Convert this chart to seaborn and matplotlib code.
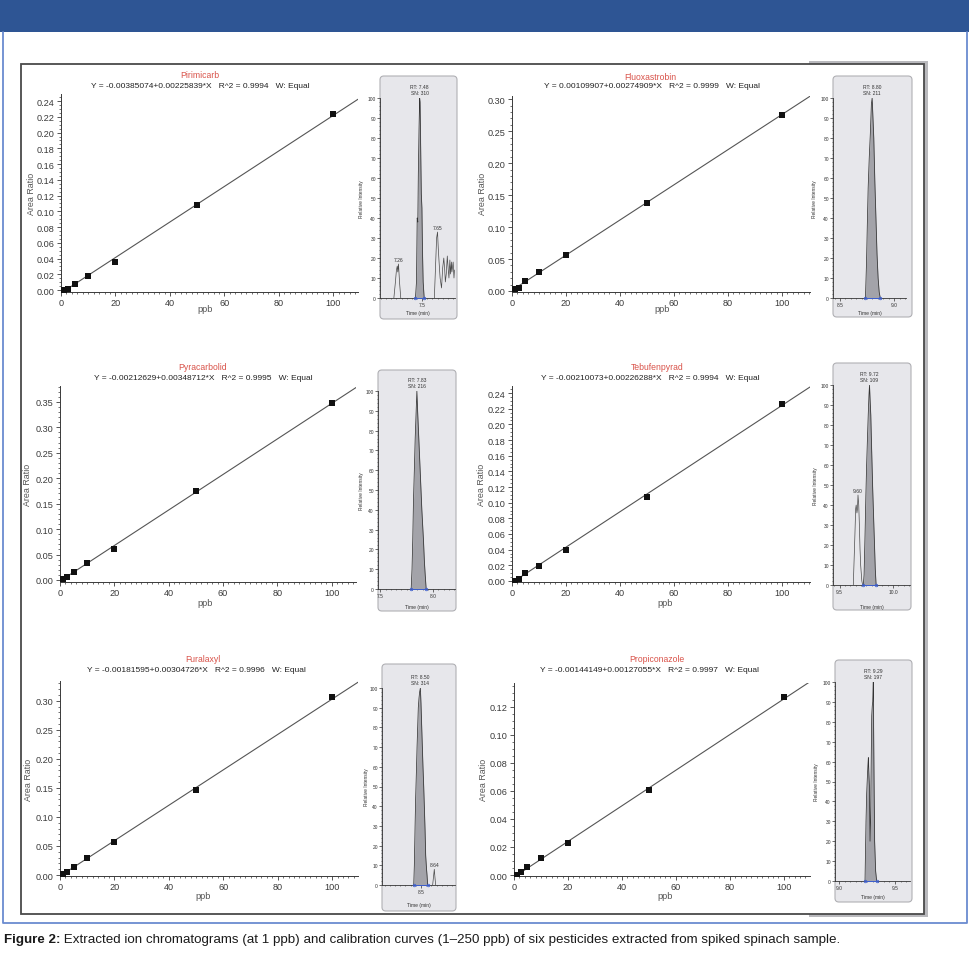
import numpy as np
import pandas as pd
import matplotlib
matplotlib.use("Agg")
import matplotlib.pyplot as plt
import seaborn as sns
from matplotlib.patches import Rectangle, FancyBboxPatch
from matplotlib.lines import Line2D
from matplotlib.ticker import MultipleLocator, FormatStrFormatter
from matplotlib.text import Annotation

# ------------------------------------------------------------------ data
compounds = ["Pirimicarb", "Fluoxastrobin", "Pyracarbolid",
             "Tebufenpyrad", "Furalaxyl", "Propiconazole"]
conc_ppb = [1, 2.5, 5, 10, 20, 50, 100]
area_pirimicarb = [0.0004, 0.0017, 0.0072, 0.0180, 0.0360, 0.1080, 0.2230]
area_fluoxastrobin = [0.0026, 0.0040, 0.0150, 0.0296, 0.0567, 0.1380, 0.2756]
area_pyracarbolid = [0.0020, 0.0065, 0.0150, 0.0330, 0.0610, 0.1740, 0.3470]
area_tebufenpyrad = [0.0004, 0.0020, 0.0098, 0.0190, 0.0390, 0.1076, 0.2254]
area_furalaxyl = [0.0010, 0.0050, 0.0144, 0.0290, 0.0570, 0.1466, 0.3060]
area_propiconazole = [0.0002, 0.0024, 0.0060, 0.0119, 0.0230, 0.0608, 0.1267]
intercepts = [-0.00385074, 0.00109907, -0.00212629, -0.00210073, -0.00181595, -0.00144149]
slopes = [0.00225839, 0.00274909, 0.00348712, 0.00226288, 0.00304726, 0.00127055]
r_squared = ["0.9994", "0.9999", "0.9995", "0.9994", "0.9996", "0.9997"]
y_tick_step = [0.02, 0.05, 0.05, 0.02, 0.05, 0.02]

# chromatograms (time in min, relative intensity in %)
pir_peak_t = [7.435, 7.445, 7.452, 7.458, 7.463, 7.470, 7.476, 7.480, 7.486, 7.492, 7.498, 7.503, 7.510, 7.520]
pir_peak_i = [0, 8, 40, 38, 62, 85, 100, 98, 75, 52, 45, 25, 8, 0]
pir_side_t = [[7.225, 7.240, 7.250, 7.258, 7.263, 7.270, 7.280, 7.292],
              [7.619, 7.630, 7.641, 7.650, 7.657, 7.665, 7.675, 7.689, 7.700, 7.711, 7.720, 7.726,
               7.735, 7.745, 7.753, 7.761, 7.770, 7.777, 7.785, 7.790, 7.802, 7.810, 7.815]]
pir_side_i = [[0, 8, 14, 16, 13, 17, 8, 0],
              [0, 15, 30, 33, 25, 18, 10, 5, 15, 20, 14, 8, 12, 21, 15, 10, 19, 12, 18, 13, 18, 10, 14]]
pir_side_labels = ["7.26", "7.65"]

flu_peak_t = [8.735, 8.745, 8.752, 8.760, 8.770, 8.780, 8.790, 8.797, 8.803, 8.812, 8.822, 8.832, 8.842, 8.852, 8.862, 8.872]
flu_peak_i = [0, 18, 36, 55, 70, 82, 97, 100, 92, 80, 58, 40, 22, 10, 3, 0]

pyr_peak_t = [7.792, 7.800, 7.807, 7.814, 7.822, 7.830, 7.838, 7.846, 7.853, 7.861, 7.869, 7.877,
              7.885, 7.893, 7.901, 7.909, 7.917, 7.925, 7.934]
pyr_peak_i = [0, 10, 25, 45, 60, 76, 88, 100, 90, 80, 70, 60, 50, 40, 32, 24, 14, 7, 0]

teb_peak_t = [9.722, 9.729, 9.738, 9.746, 9.753, 9.760, 9.768, 9.775, 9.780, 9.786, 9.792, 9.798,
              9.804, 9.810, 9.816, 9.822, 9.827, 9.834, 9.842]
teb_peak_i = [0, 5, 25, 45, 60, 72, 85, 95, 100, 92, 85, 72, 60, 48, 38, 28, 20, 8, 0]
teb_side_t = [[9.628, 9.643, 9.650, 9.655, 9.662, 9.667, 9.672, 9.679, 9.685, 9.691, 9.697, 9.708, 9.716]]
teb_side_i = [[0, 25, 38, 40, 36, 38, 45, 40, 30, 18, 10, 2, 0]]
teb_side_labels = ["9.60"]

fur_peak_t = [8.430, 8.436, 8.443, 8.449, 8.456, 8.462, 8.468, 8.474, 8.481, 8.487, 8.494, 8.500,
              8.507, 8.513, 8.519, 8.526, 8.532, 8.539, 8.545, 8.552, 8.558, 8.564]
fur_peak_i = [0, 10, 30, 45, 58, 70, 80, 90, 95, 98, 100, 92, 80, 70, 60, 50, 40, 28, 15, 9, 5, 0]
fur_side_t = [[8.612, 8.620, 8.628, 8.634, 8.641]]
fur_side_i = [[0, 4, 8, 4, 0]]
fur_side_labels = ["8.64"]

pro_peak_t = [9.232, 9.241, 9.247, 9.253, 9.258, 9.262, 9.266, 9.271, 9.277, 9.282, 9.287, 9.292,
              9.297, 9.301, 9.306, 9.310, 9.313, 9.318, 9.327, 9.336]
pro_peak_i = [0, 30, 44, 52, 58, 62, 55, 48, 20, 30, 58, 83, 88, 90, 100, 70, 50, 20, 5, 0]

rt_labels = ["RT: 7.48\nSN: 310", "RT: 8.80\nSN: 211", "RT: 7.83\nSN: 216",
             "RT: 9.72\nSN: 109", "RT: 8.50\nSN: 314", "RT: 9.29\nSN: 197"]
caption_bold = "Figure 2:"
caption_text = (" Extracted ion chromatograms (at 1 ppb) and calibration curves (1\u2013250 ppb) "
                "of six pesticides extracted from spiked spinach sample.")

area_lists = [area_pirimicarb, area_fluoxastrobin, area_pyracarbolid,
              area_tebufenpyrad, area_furalaxyl, area_propiconazole]
chroms = [
    (pir_peak_t, pir_peak_i, pir_side_t, pir_side_i, pir_side_labels),
    (flu_peak_t, flu_peak_i, [], [], []),
    (pyr_peak_t, pyr_peak_i, [], [], []),
    (teb_peak_t, teb_peak_i, teb_side_t, teb_side_i, teb_side_labels),
    (fur_peak_t, fur_peak_i, fur_side_t, fur_side_i, fur_side_labels),
    (pro_peak_t, pro_peak_i, [], [], []),
]

# ------------------------------------------------------------------ layout (pixels)
W, H = 970, 954
calib_px = [(61, 95, 358, 293), (512, 97, 810, 293),
            (60, 387, 356, 583), (512, 387, 810, 583),
            (60, 682, 358, 877), (514, 684, 810, 877)]
calib_xmax = [109, 110.4, 109, 110.4, 109.5, 109.7]
calib_ylim = [(-0.0025, 0.249), (-0.0016, 0.305), (-0.004, 0.381),
              (-0.0013, 0.249), (-0.0017, 0.334), (-0.0007, 0.137)]
title_px = [(200, 76), (650, 77), (203, 368), (657, 368), (203, 660), (657, 660)]
eq_px = [(200, 87), (652, 87), (203, 378), (650, 378), (196, 671), (650, 671)]
ylabel_px = [(32, 194), (483, 194), (28, 485), (482, 485), (29, 780), (484, 780)]
xlabel_px = [(205, 309), (662, 309), (205, 604), (665, 604), (203, 897), (665, 897)]

inset_px = [(380, 99, 455, 299), (833, 99, 906, 299), (378, 392, 455, 590),
            (833, 386, 910, 586), (382, 689, 455, 886), (835, 683, 910, 882)]
inset_box_px = [(380, 77, 457, 320), (833, 77, 912, 318), (378, 371, 456, 612),
                (833, 364, 911, 611), (382, 665, 456, 912), (835, 661, 912, 903)]
inset_xlim = [(7.09, 7.82), (8.435, 9.11), (7.478, 8.207),
              (9.4375, 10.16), (8.125, 8.827), (8.964, 9.634)]
ri_label_x = [362, 815, 362, 816, 367, 817]
time_label_y = [313, 314, 607, 607, 906, 898]

# ------------------------------------------------------------------ figure
sns.set_theme(style="ticks")
plt.rcParams["font.family"] = ["Liberation Sans", "DejaVu Sans"]
plt.rcParams["axes.linewidth"] = 0.7

fig = plt.figure(figsize=(W / 100, H / 100), dpi=100, facecolor="white")


def fx(x):
    return x / W


def fy(y):
    return 1 - y / H


def rect(l, t, r, b):
    return [fx(l), fy(b), (r - l) / W, (b - t) / H]


def page_rect(l, t, r, b, **kw):
    p = Rectangle((fx(l), fy(b)), (r - l) / W, (b - t) / H, transform=fig.transFigure, **kw)
    fig.add_artist(p)
    return p


# page decoration
page_rect(0, 0, 970, 33, facecolor="#2E5594", edgecolor="none", zorder=-10)
fig.add_artist(Line2D([fx(3), fx(3), fx(967), fx(967)], [fy(33), fy(924), fy(924), fy(33)],
                      transform=fig.transFigure, color="#6A8BD0", lw=1.3, zorder=-10))
page_rect(809, 62, 928, 918, facecolor="#B9B9BD", edgecolor="none", zorder=-9)
page_rect(21, 65, 924, 915, facecolor="white", edgecolor="#4A4A4A", lw=1.3, zorder=-8)

tick_col = "#3a3a3a"

# calibration curves
for k in range(6):
    ax = fig.add_axes(rect(*calib_px[k]))
    ax.set_facecolor("none")
    xmax = calib_xmax[k]
    line_x = np.array([0.0, xmax])
    line_df = pd.DataFrame({"ppb": line_x, "fit": intercepts[k] + slopes[k] * line_x})
    pts_df = pd.DataFrame({"ppb": conc_ppb, "ratio": area_lists[k]})
    sns.lineplot(data=line_df, x="ppb", y="fit", ax=ax, color="#555555", lw=0.8)
    sns.scatterplot(data=pts_df, x="ppb", y="ratio", ax=ax, marker="s", s=20,
                    color="#111111", edgecolor="#111111", linewidth=0, zorder=3)
    ax.set_xlim(0, xmax)
    ax.set_ylim(*calib_ylim[k])
    sns.despine(ax=ax)
    for sp in ("left", "bottom"):
        ax.spines[sp].set_color(tick_col)
        ax.spines[sp].set_linewidth(0.7)
    ax.xaxis.set_major_locator(MultipleLocator(20))
    ax.xaxis.set_minor_locator(MultipleLocator(2))
    ax.yaxis.set_major_locator(MultipleLocator(y_tick_step[k]))
    ax.yaxis.set_minor_locator(MultipleLocator(y_tick_step[k] / (4 if y_tick_step[k] < 0.03 else 5)))
    ax.yaxis.set_major_formatter(FormatStrFormatter("%.2f"))
    ax.tick_params(which="major", direction="out", length=3, width=0.6, pad=1.5,
                   labelsize=6.6, colors=tick_col)
    ax.tick_params(which="minor", direction="out", length=1.6, width=0.5, colors=tick_col)
    ax.set_xlabel("")
    ax.set_ylabel("")
    fig.text(fx(title_px[k][0]), fy(title_px[k][1]), compounds[k], color="#D9534A",
             fontsize=6.2, ha="center", va="center")
    eq = f"Y = {intercepts[k]:.8f}+{slopes[k]:.8f}*X   R^2 = {r_squared[k]}   W: Equal"
    fig.text(fx(eq_px[k][0]), fy(eq_px[k][1]), eq, color="#222222",
             fontsize=6.0, ha="center", va="center")
    fig.text(fx(ylabel_px[k][0]), fy(ylabel_px[k][1]), "Area Ratio", color="#555555",
             fontsize=6.4, ha="center", va="center", rotation=90)
    fig.text(fx(xlabel_px[k][0]), fy(xlabel_px[k][1]), "ppb", color="#555555",
             fontsize=6.6, ha="center", va="center")

# chromatogram insets
for k in range(6):
    bl, bt, br, bb = inset_box_px[k]
    box = FancyBboxPatch((fx(bl), fy(bb)), (br - bl) / W, (bb - bt) / H,
                         boxstyle="round,pad=0,rounding_size=0.004",
                         transform=fig.transFigure, facecolor="#E7E7EB",
                         edgecolor="#B0B0B4", lw=0.8, zorder=-5)
    fig.add_artist(box)
    l, t, r, b = inset_px[k]
    ax = fig.add_axes(rect(l, t, r, b))
    ax.set_facecolor("none")
    peak_t, peak_i, side_t, side_i, side_lab = chroms[k]
    ax.fill_between(peak_t, peak_i, color="#A3A3A9", lw=0, zorder=1)
    sns.lineplot(x=peak_t, y=peak_i, ax=ax, color="#333333", lw=0.55, sort=False, zorder=2)
    for st, si, lab in zip(side_t, side_i, side_lab):
        sns.lineplot(x=st, y=si, ax=ax, color="#4a4a4a", lw=0.5, sort=False, zorder=2)
        j = int(np.argmax(si))
        ax.annotate(lab, xy=(st[j], si[j]), xytext=(0, 2), textcoords="offset pixels",
                    ha="center", va="bottom", fontsize=3.6, color="#333333")
    ax.plot([peak_t[0], peak_t[-1]], [0, 0], color="#3D5FD0", lw=0.7, marker="o",
            ms=1.8, mfc="none", mew=0.6, zorder=4, clip_on=False)
    jm = int(np.argmax(peak_i))
    ax.annotate(rt_labels[k], xy=(peak_t[jm], 100), xytext=(0, 3), textcoords="offset pixels",
                ha="center", va="bottom", fontsize=3.6, color="#333333", linespacing=1.25)
    ax.set_xlim(*inset_xlim[k])
    ax.set_ylim(0, 100)
    sns.despine(ax=ax)
    for sp in ("left", "bottom"):
        ax.spines[sp].set_color("#333333")
        ax.spines[sp].set_linewidth(0.6)
    ax.xaxis.set_major_locator(MultipleLocator(0.5))
    ax.xaxis.set_minor_locator(MultipleLocator(0.05))
    ax.xaxis.set_major_formatter(FormatStrFormatter("%.1f"))
    ax.yaxis.set_major_locator(MultipleLocator(10))
    ax.yaxis.set_minor_locator(MultipleLocator(2))
    ax.tick_params(which="major", direction="out", length=2, width=0.5, pad=1,
                   labelsize=3.5, colors="#333333")
    ax.tick_params(which="minor", direction="out", length=1, width=0.4, colors="#333333")
    ax.set_xlabel("")
    ax.set_ylabel("")
    fig.text(fx(ri_label_x[k]), fy((t + b) / 2), "Relative Intensity", fontsize=3.5,
             color="#333333", rotation=90, ha="center", va="center")
    fig.text(fx((l + r) / 2), fy(time_label_y[k]), "Time (min)", fontsize=3.6,
             color="#333333", ha="center", va="center")

# caption
cap_family = ["Liberation Sans Narrow", "Liberation Sans", "DejaVu Sans"]
cs = 9.0
t1 = fig.text(fx(4), fy(940), caption_bold, fontweight="bold", fontsize=cs, ha="left",
              va="center", color="#1a1a1a", family=cap_family)
t2 = Annotation(caption_text, xy=(1, 0.5), xycoords=t1, ha="left", va="center",
                fontsize=cs, color="#1a1a1a", family=cap_family)
fig.add_artist(t2)
fig.canvas.draw()
rend = fig.canvas.get_renderer()
wtot = t1.get_window_extent(rend).width + t2.get_window_extent(rend).width
scale = 837.0 / wtot
t1.set_fontsize(cs * scale)
t2.set_fontsize(cs * scale)

fig.savefig("out.png", dpi=100, facecolor="white")
